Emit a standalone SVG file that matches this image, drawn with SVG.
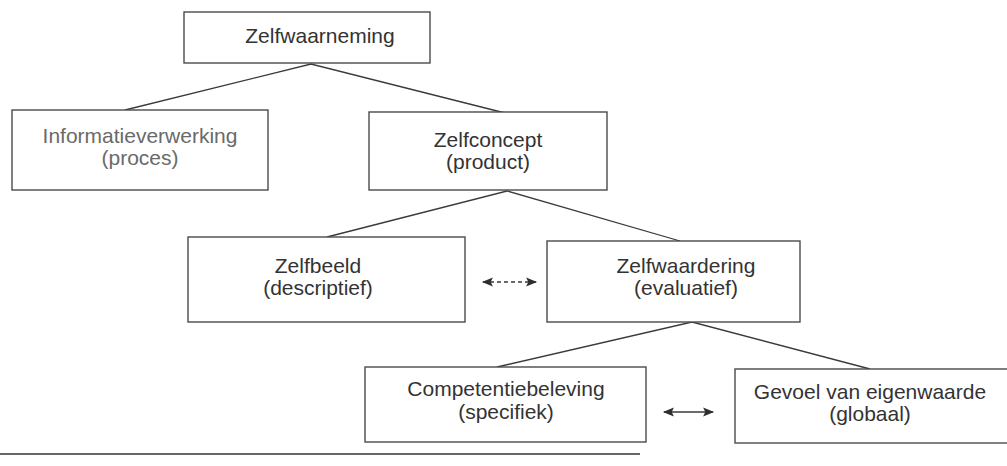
<svg xmlns="http://www.w3.org/2000/svg" width="1007" height="466" viewBox="0 0 1007 466">
  <defs>
    <style>
      .box { fill: #ffffff; stroke: #4a4a4a; stroke-width: 1.4; }
      .lbl { font-family: "Liberation Sans", Arial, sans-serif; font-size: 21px; fill: #333333; text-anchor: middle; }
      .lbl.light { fill: #6a6a6a; }
      .edge { fill: none; stroke: #3a3a3a; stroke-width: 1.3; }
      .dbl { fill: none; stroke: #3a3a3a; stroke-width: 1.3; marker-start: url(#headL); marker-end: url(#headR); }
    </style>
    <marker id="headR" viewBox="0 0 10 10" refX="9" refY="5" markerWidth="12" markerHeight="11" markerUnits="userSpaceOnUse" orient="auto">
      <path d="M0,1 L10,5 L0,9 L2,5 Z" fill="#2e2e2e"/>
    </marker>
    <marker id="headL" viewBox="0 0 10 10" refX="1" refY="5" markerWidth="12" markerHeight="11" markerUnits="userSpaceOnUse" orient="auto">
      <path d="M10,1 L0,5 L10,9 L8,5 Z" fill="#2e2e2e"/>
    </marker>
  </defs>

  <rect width="1007" height="466" fill="#ffffff"/>

  <!-- tree connectors and bidirectional links -->
  <g id="connectors">
    <path class="edge" d="M125,110 L311,64 L505,113"/>
    <path class="edge" d="M327,237 L507,191 L680,241"/>
    <path class="edge" d="M497,367 L692,322 L870,369"/>
    <line class="dbl" x1="483" y1="282" x2="536" y2="282" stroke-dasharray="4 3"/>
    <line class="dbl" x1="664" y1="412" x2="713" y2="412"/>
  </g>

  <g id="zelfwaarneming">
    <rect class="box" x="184" y="12" width="246" height="51"/>
    <text class="lbl" x="320" y="43">Zelfwaarneming</text>
  </g>

  <g id="informatieverwerking">
    <rect class="box" x="12" y="110" width="256" height="80"/>
    <text class="lbl light" x="140" y="143">Informatieverwerking</text>
    <text class="lbl light" x="140" y="165">(proces)</text>
  </g>

  <g id="zelfconcept">
    <rect class="box" x="369" y="112" width="238" height="78"/>
    <text class="lbl" x="488" y="147">Zelfconcept</text>
    <text class="lbl" x="488" y="169">(product)</text>
  </g>

  <g id="zelfbeeld">
    <rect class="box" x="188" y="237" width="277" height="85"/>
    <text class="lbl" x="318" y="273">Zelfbeeld</text>
    <text class="lbl" x="318" y="295">(descriptief)</text>
  </g>

  <g id="zelfwaardering">
    <rect class="box" x="547" y="241" width="253" height="81"/>
    <text class="lbl" x="686" y="273">Zelfwaardering</text>
    <text class="lbl" x="686" y="295">(evaluatief)</text>
  </g>

  <g id="competentiebeleving">
    <rect class="box" x="365" y="367" width="281" height="75"/>
    <text class="lbl" x="506" y="396">Competentiebeleving</text>
    <text class="lbl" x="506" y="419">(specifiek)</text>
  </g>

  <g id="eigenwaarde">
    <rect class="box" x="735" y="369" width="280" height="74"/>
    <text class="lbl" x="870" y="399">Gevoel van eigenwaarde</text>
    <text class="lbl" x="870" y="421">(globaal)</text>
  </g>

  <!-- rule under the figure -->
  <line x1="0" y1="454" x2="640" y2="454" stroke="#333333" stroke-width="1.6"/>
</svg>
